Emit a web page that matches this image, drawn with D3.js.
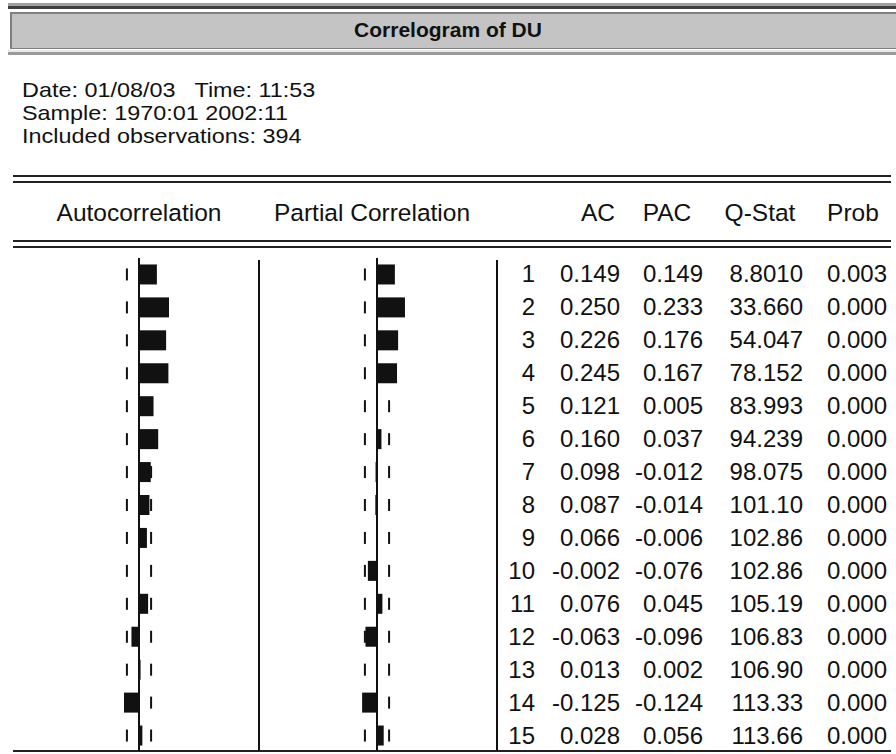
<!DOCTYPE html>
<html><head><meta charset="utf-8">
<script src="https://cdn.jsdelivr.net/npm/d3@7"></script>
<style>
html,body{margin:0;padding:0;background:#fff;}
svg text{font-family:"Liberation Sans",Arial,sans-serif;fill:#111;white-space:pre;}
</style></head>
<body><svg id="c" width="896" height="754"></svg>
<script>
const lags = [1,2,3,4,5,6,7,8,9,10,11,12,13,14,15];
const ac   = [0.149,0.250,0.226,0.245,0.121,0.160,0.098,0.087,0.066,-0.002,0.076,-0.063,0.013,-0.125,0.028];
const pac  = [0.149,0.233,0.176,0.167,0.005,0.037,-0.012,-0.014,-0.006,-0.076,0.045,-0.096,0.002,-0.124,0.056];
const qstat= [8.8010,33.660,54.047,78.152,83.993,94.239,98.075,101.10,102.86,102.86,105.19,106.83,106.90,113.33,113.66];
const prob = [0.003,0.000,0.000,0.000,0.000,0.000,0.000,0.000,0.000,0.000,0.000,0.000,0.000,0.000,0.000];
const headerLines = ["Date: 01/08/03   Time: 11:53","Sample: 1970:01 2002:11","Included observations: 394"];
const nObs = 394;
const title = "Correlogram of DU";

const svg = d3.select("#c");
// title bar
svg.append("rect").attr("x",8).attr("y",3).attr("width",888).attr("height",3).attr("fill","#a0a0a0");
svg.append("rect").attr("x",8).attr("y",6).attr("width",888).attr("height",3).attr("fill","#404040");
svg.append("rect").attr("x",8).attr("y",10).attr("width",888).attr("height",39).attr("fill","#ffffff");
svg.append("rect").attr("x",10).attr("y",12).attr("width",886).attr("height",37).attr("fill","#808080");
svg.append("rect").attr("x",12).attr("y",14).attr("width",884).attr("height",34).attr("fill","#c4c4c4");
svg.append("rect").attr("x",8).attr("y",50).attr("width",888).attr("height",2).attr("fill","#e8e8e8");
svg.append("rect").attr("x",8).attr("y",52).attr("width",888).attr("height",3).attr("fill","#9a9a9a");
svg.append("text").attr("x",448).attr("y",37).attr("text-anchor","middle")
  .attr("font-size",21).attr("font-weight","bold").text(title);

svg.append("g").attr("transform","translate(22,0) scale(1.17,1)")
  .selectAll("text.hdr").data(headerLines).join("text").attr("class","hdr")
  .attr("x",0).attr("y",(d,i)=>97+i*23).attr("font-size",20).text(d=>d);

// double rules
const rule = (y)=>{[0,6].forEach(o=>svg.append("line").attr("x1",13).attr("x2",891)
  .attr("y1",y+o).attr("y2",y+o).attr("stroke","#222").attr("stroke-width",2));};
rule(176); rule(241);
svg.append("line").attr("x1",13).attr("x2",891).attr("y1",751).attr("y2",751).attr("stroke","#222").attr("stroke-width",2);

// column headers
const cols = [["Autocorrelation",139],["Partial Correlation",372],["AC",598],["PAC",667],["Q-Stat",760],["Prob",853]];
svg.selectAll("text.col").data(cols).join("text").attr("class","col")
  .attr("x",d=>d[1]).attr("y",221).attr("text-anchor","middle").attr("font-size",24.5).text(d=>d[0]);

const y = d3.scaleBand().domain(lags).range([258,752]).paddingInner(0.38).paddingOuter(0.19);
const rowC = l => y(l)+y.bandwidth()/2;
const bound = 2/Math.sqrt(nObs);

function panel(vals, x0){
  const x = d3.scaleLinear().domain([-0.5,0.5]).range([x0-60,x0+60]);
  const g = svg.append("g");
  g.selectAll("rect.dash").data(lags.flatMap(l=>[[l,-bound],[l,bound]])).join("rect")
    .attr("x",d=>x(d[1])-1).attr("y",d=>rowC(d[0])-6).attr("width",2).attr("height",12).attr("fill","#111");
  g.selectAll("rect.bar").data(lags).join("rect")
    .attr("x",(d,i)=>Math.min(x(0),x(vals[i]))).attr("width",(d,i)=>Math.abs(x(vals[i])-x(0)))
    .attr("y",d=>rowC(d)-10).attr("height",20).attr("fill","#111");
  g.append("line").attr("x1",x(0)).attr("x2",x(0)).attr("y1",258).attr("y2",751).attr("stroke","#111").attr("stroke-width",2);
}
panel(ac,139);
panel(pac,377);
[259,497].forEach(xx=>svg.append("line").attr("x1",xx).attr("x2",xx).attr("y1",260).attr("y2",751).attr("stroke","#111").attr("stroke-width",2));

const tcols = [[lags,d=>String(d),535],[ac,d=>d.toFixed(3),620],[pac,d=>d.toFixed(3),703],[qstat,d=>d.toPrecision(5),803],[prob,d=>d.toFixed(3),887]];
tcols.forEach(([arr,f,xr])=>{
  svg.append("g").selectAll("text").data(arr).join("text")
    .attr("x",xr).attr("y",(d,i)=>rowC(lags[i])+8).attr("text-anchor","end").attr("font-size",24).text(f);
});
</script></body></html>
